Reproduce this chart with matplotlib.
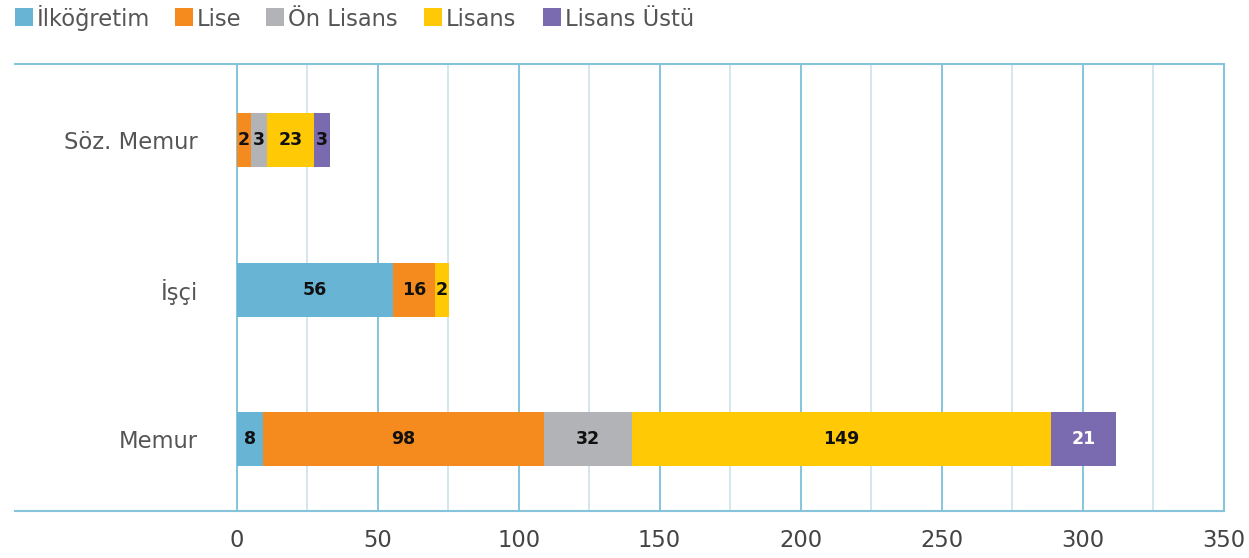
import matplotlib
matplotlib.use("Agg")
import matplotlib.pyplot as plt
from matplotlib.patches import Rectangle
import numpy as np

categories = ["Memur", "İşçi", "Söz. Memur"]
series_names = ["İlköğretim", "Lise", "Ön Lisans", "Lisans", "Lisans Üstü"]

# value labels printed on the segments
ilkogretim = [8, 56, 0]
lise = [98, 16, 2]
on_lisans = [32, 0, 3]
lisans = [149, 2, 23]
lisans_ustu = [21, 0, 3]

# segment lengths as drawn in the picture (small segments are drawn wider)
ilkogretim_len = [9.45, 55.4, 0]
lise_len = [99.5, 14.9, 5.0]
on_lisans_len = [31.2, 0, 5.7]
lisans_len = [148.6, 5.1, 16.8]
lisans_ustu_len = [23.1, 0, 5.6]

x_ticks = [0, 50, 100, 150, 200, 250, 300, 350]

colors = ["#67b4d4", "#f58b1f", "#b1b3b6", "#ffca05", "#7a6bb0"]

plt.rcParams['font.family'] = ['DejaVu Sans']

W, H = 1249, 558
fig = plt.figure(figsize=(W / 100, H / 100), dpi=100)
fig.patch.set_facecolor("white")

x0, x1 = 236.7, 1223.5
y_top, y_bot = 64, 511
ax = fig.add_axes([x0 / W, (H - y_bot) / H, (x1 - x0) / W, (y_bot - y_top) / H])
ax.set_facecolor("none")

ypos = np.arange(len(categories))
labels = [ilkogretim, lise, on_lisans, lisans, lisans_ustu]
lengths = [ilkogretim_len, lise_len, on_lisans_len, lisans_len, lisans_ustu_len]
left = np.zeros(len(categories))
bar_h = 0.36
for k, (vals, lens, c) in enumerate(zip(labels, lengths, colors)):
    lens = np.array(lens, dtype=float)
    ax.barh(ypos, lens, left=left, height=bar_h, color=c, zorder=3)
    for i, v in enumerate(vals):
        if v > 0:
            tc = "#ffffff" if (k == 4 and lens[i] > 10) else "#111111"
            ax.text(left[i] + lens[i] / 2, ypos[i], f"{v}", ha="center", va="center",
                    fontsize=12.5, fontweight="bold", color=tc, zorder=4)
    left += lens

ax.set_xlim(0, 350)
ax.set_ylim(-0.48, 2.508)

ax.set_xticks(x_ticks)
ax.set_xticks(np.arange(25, 350, 50), minor=True)
ax.set_xticklabels([str(t) for t in x_ticks], fontsize=16.3, color="#444444")
ax.tick_params(axis="x", which="both", length=0, pad=13)
ax.set_yticks(ypos)
ax.set_yticklabels(categories, fontsize=16.3, color="#555555")
ax.tick_params(axis="y", length=0, pad=28)

ax.grid(axis="x", which="major", color="#86c4dc", linewidth=1.4, zorder=1)
ax.grid(axis="x", which="minor", color="#d3e7ef", linewidth=1.4, zorder=1)
ax.grid(axis="y", visible=False)
ax.axvline(0, color="#86c4dc", linewidth=1.4, clip_on=False, zorder=2)

ax.spines["left"].set_visible(False)
for s in ["top", "bottom", "right"]:
    ax.spines[s].set_color("#86c4dc")
    ax.spines[s].set_linewidth(1.5)

# extend top & bottom frame lines to the left
ext = (15 - x0) / (x1 - x0)
for yy in (0, 1):
    ax.plot([ext, 0], [yy, yy], transform=ax.transAxes, color="#86c4dc",
            linewidth=1.5, clip_on=False, zorder=2)

# legend (manual placement)
sq_x = [15, 175, 266, 424, 543]
for xs, c, name in zip(sq_x, colors, series_names):
    fig.patches.append(Rectangle((xs / W, (H - 26) / H), 18 / W, 18 / H,
                                 transform=fig.transFigure, facecolor=c, edgecolor="none"))
    fig.text((xs + 22) / W, (H - 26) / H, name, ha="left", va="baseline",
             fontsize=16.3, color="#555555")

fig.savefig("out.png", dpi=100, facecolor="white")
